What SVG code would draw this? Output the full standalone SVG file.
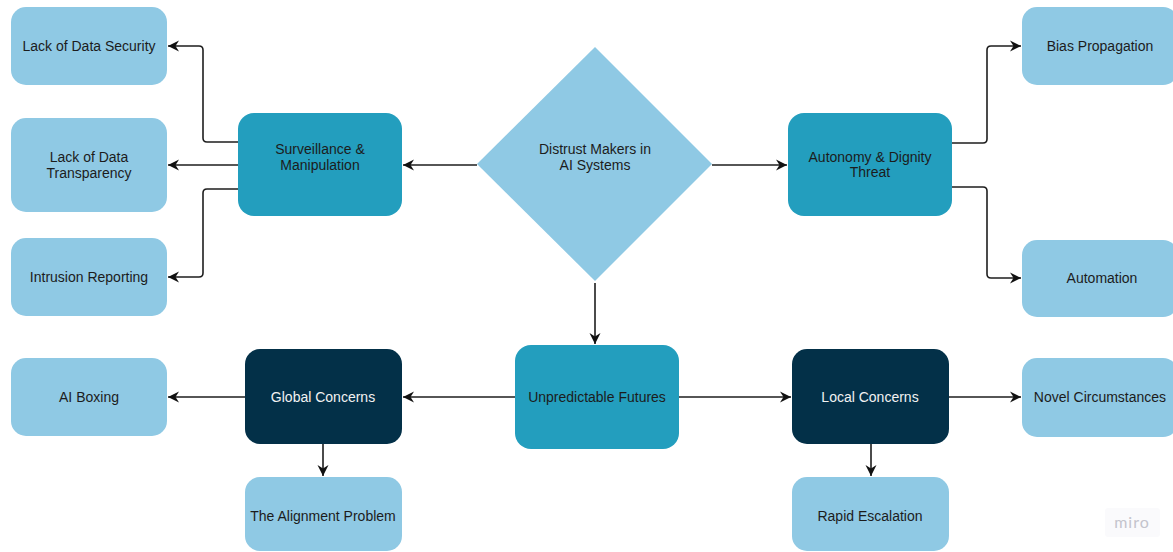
<svg xmlns="http://www.w3.org/2000/svg" width="1173" height="552" viewBox="0 0 1173 552">
<defs>
<style>
.light{fill:#8FC9E4;}
.teal{fill:#239EBE;}
.navy{fill:#033048;}
.t{font-family:"Liberation Sans",Arial,sans-serif;font-size:14px;fill:#1c1c1c;text-anchor:middle;}
.w{fill:#f2f2f2;}
.c{fill:none;stroke:#1e1e1e;stroke-width:1.6;marker-end:url(#ah);}
</style>
<marker id="ah" markerUnits="userSpaceOnUse" markerWidth="12" markerHeight="12" viewBox="0 0 12 12" refX="11" refY="6" orient="auto">
<path d="M0,0.5 L11,6 L0,11.5 L3.5,6 Z" fill="#111"/>
</marker>
</defs>
<rect width="1173" height="552" fill="#ffffff"/>
<g id="connectors">
<path class="c" d="M238,142 H207 Q203,142 203,138 V50 Q203,46 199,46 H168"/>
<path class="c" d="M238,165 H168"/>
<path class="c" d="M238,189 H207 Q203,189 203,193 V273 Q203,277 199,277 H168"/>
<path class="c" d="M477,165 H403"/>
<path class="c" d="M712,165 H787"/>
<path class="c" d="M952,143 H983 Q987,143 987,139 V50 Q987,46 991,46 H1021"/>
<path class="c" d="M952,187 H983 Q987,187 987,191 V274 Q987,278 991,278 H1021"/>
<path class="c" d="M595,283 V344"/>
<path class="c" d="M515,397 H403"/>
<path class="c" d="M679,397 H791"/>
<path class="c" d="M949,397 H1021"/>
<path class="c" d="M245,397 H168"/>
<path class="c" d="M323,444 V476"/>
<path class="c" d="M871,444 V476"/>
</g>
<g id="lack-data-security"><rect class="light" x="11" y="7" width="156" height="78" rx="15"/><text class="t" x="89" y="51">Lack of Data Security</text></g>
<g id="lack-data-transparency"><rect class="light" x="11" y="118" width="156" height="94" rx="15"/><text class="t" x="89" y="162">Lack of Data</text><text class="t" x="89" y="178">Transparency</text></g>
<g id="intrusion-reporting"><rect class="light" x="11" y="238" width="156" height="78" rx="15"/><text class="t" x="89" y="282">Intrusion Reporting</text></g>
<g id="surveillance"><rect class="teal" x="238" y="113" width="164" height="103" rx="16"/><text class="t" x="320" y="154">Surveillance &amp;</text><text class="t" x="320" y="170">Manipulation</text></g>
<g id="distrust"><polygon class="light" points="595,47 712,164 595,281 477,164"/><text class="t" x="595" y="154">Distrust Makers in</text><text class="t" x="595" y="170">AI Systems</text></g>
<g id="autonomy"><rect class="teal" x="788" y="113" width="164" height="103" rx="16"/><text class="t" x="870" y="162">Autonomy &amp; Dignity</text><text class="t" x="870" y="177">Threat</text></g>
<g id="bias-propagation"><rect class="light" x="1022" y="7" width="156" height="78" rx="15"/><text class="t" x="1100" y="51">Bias Propagation</text></g>
<g id="automation"><rect class="light" x="1022" y="240" width="156" height="77" rx="15"/><text class="t" x="1102" y="283">Automation</text></g>
<g id="unpredictable-futures"><rect class="teal" x="515" y="345" width="164" height="104" rx="16"/><text class="t" x="597" y="402">Unpredictable Futures</text></g>
<g id="global-concerns"><rect class="navy" x="245" y="349" width="157" height="95" rx="15"/><text class="t w" x="323" y="402">Global Concerns</text></g>
<g id="local-concerns"><rect class="navy" x="792" y="349" width="157" height="95" rx="15"/><text class="t w" x="870" y="402">Local Concerns</text></g>
<g id="ai-boxing"><rect class="light" x="11" y="358" width="156" height="78" rx="15"/><text class="t" x="89" y="402">AI Boxing</text></g>
<g id="alignment-problem"><rect class="light" x="245" y="477" width="157" height="74" rx="15"/><text class="t" x="323" y="521">The Alignment Problem</text></g>
<g id="novel-circumstances"><rect class="light" x="1022" y="358" width="156" height="79" rx="15"/><text class="t" x="1100" y="402">Novel Circumstances</text></g>
<g id="rapid-escalation"><rect class="light" x="792" y="477" width="157" height="74" rx="15"/><text class="t" x="870" y="521">Rapid Escalation</text></g>
<g id="miro-watermark"><rect x="1105" y="508" width="55" height="29" rx="3" fill="#fafafc"/><text x="1132" y="528" font-family="Lato,'Open Sans',sans-serif" font-size="16" fill="#c4c4cc" text-anchor="middle" letter-spacing="1">miro</text></g>
</svg>
